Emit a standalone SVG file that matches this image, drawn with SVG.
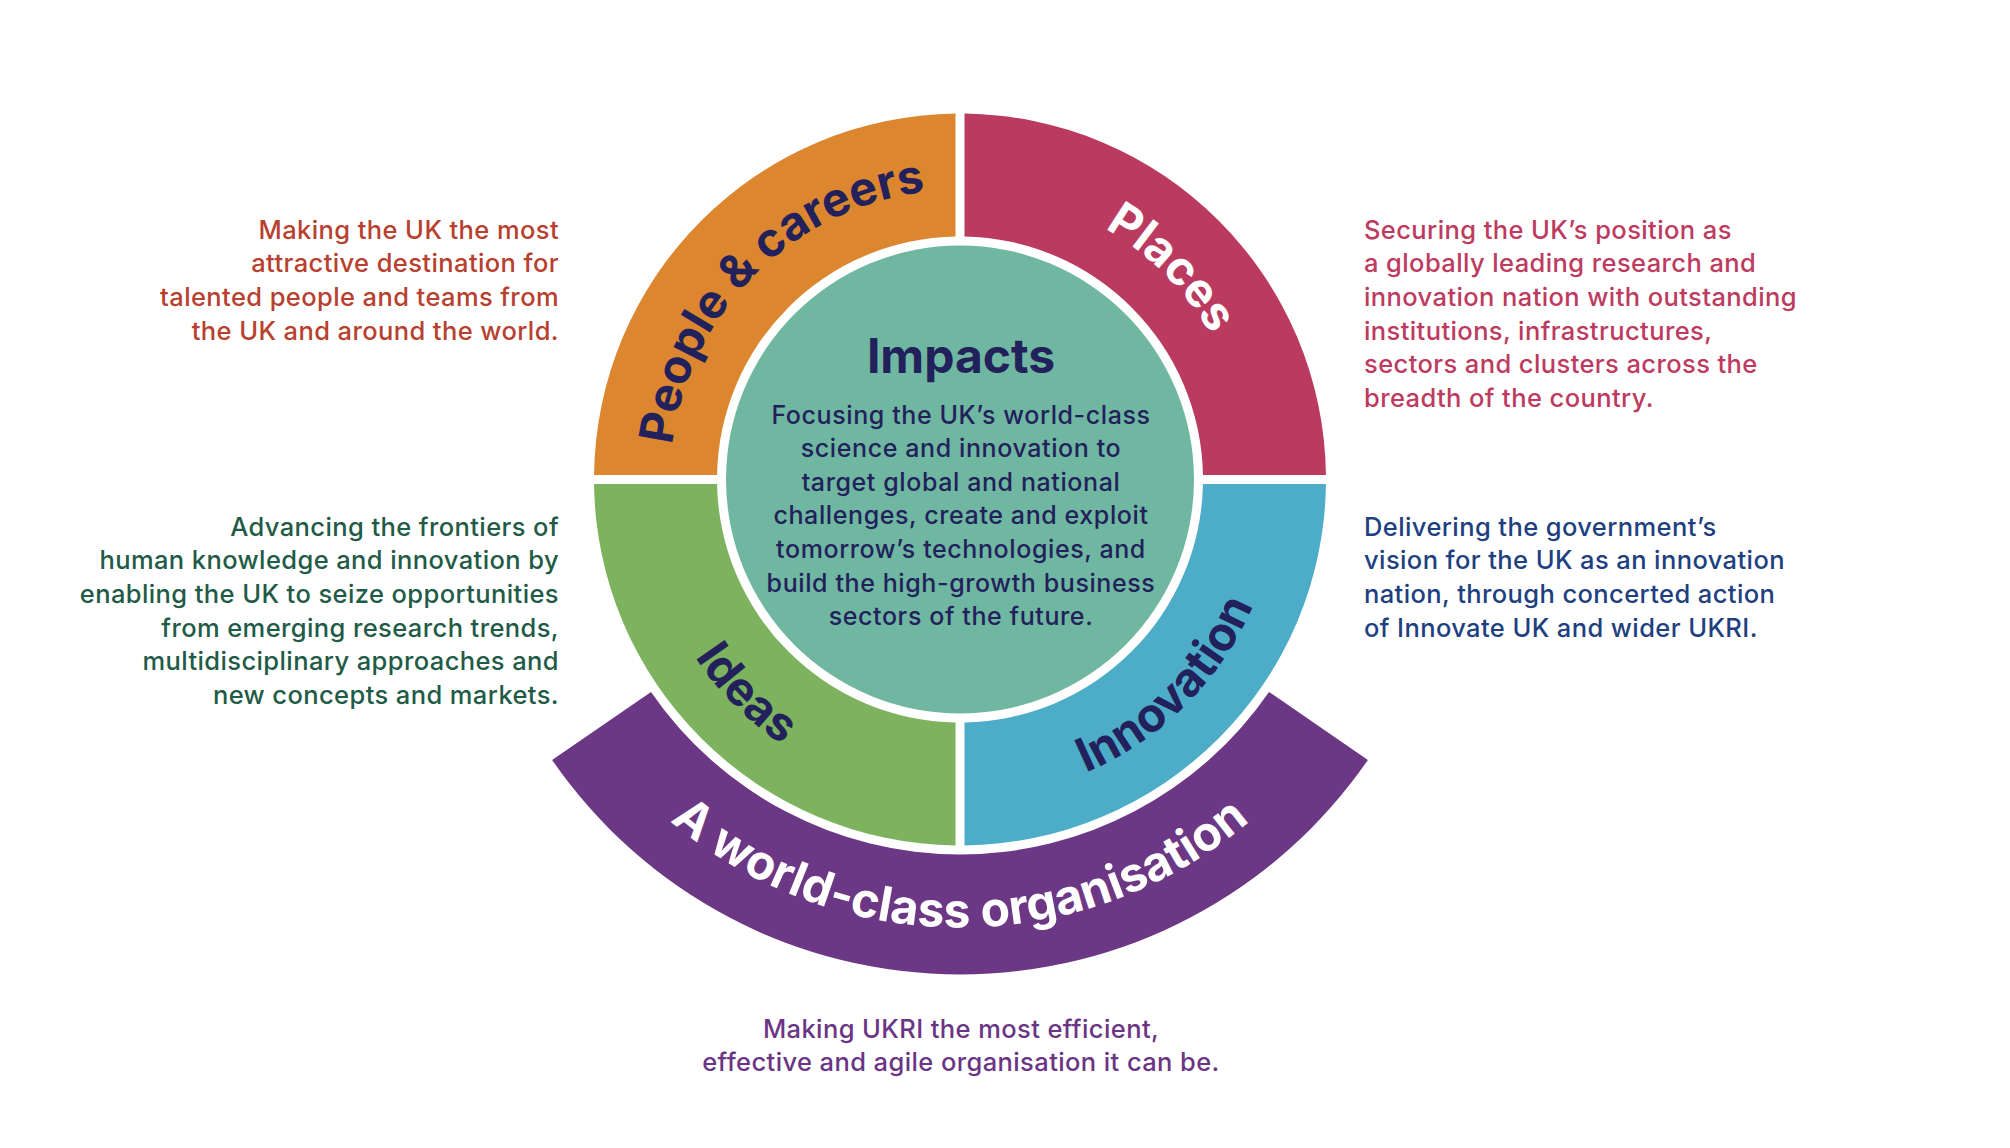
<svg xmlns="http://www.w3.org/2000/svg" xmlns:xlink="http://www.w3.org/1999/xlink" width="2010" height="1148" viewBox="0 0 2010 1148">
<style>
  .lbl { font-family: Inter, "Noto Sans", "Liberation Sans", sans-serif; font-weight: 700; font-size: 47px; }
  .navy { fill: #22215B; }
  .white { fill: #FFFFFF; }
  .desc { font-family: Inter, "Noto Sans", "Liberation Sans", sans-serif; font-weight: 500; font-size: 25.5px; letter-spacing: 0.4px; }
  .cdesc { font-family: Inter, "Noto Sans", "Liberation Sans", sans-serif; font-weight: 500; font-size: 25px; letter-spacing: 0.6px; fill: #22215B; text-anchor: middle; }
  .right { text-anchor: end; }
  .mid { text-anchor: middle; }
</style>
<defs>
  <path id="arcPeople" d="M 708.9 624.5 A 290 290 0 0 1 1105 228.4"/>
  <path id="arcPlaces" d="M 815 228.4 A 290 290 0 0 1 1211.1 624.5"/>
  <path id="arcInnov" d="M 800.5 755.8 A 319 319 0 0 0 1236.3 320"/>
  <path id="arcIdeas" d="M 683.7 320 A 319 319 0 0 0 1119.5 755.8"/>
  <path id="arcOrg" d="M 512 479.5 A 448 448 0 0 0 1408 479.5"/>
</defs>
<rect x="0" y="0" width="2010" height="1148" fill="#FFFFFF"/>

<g id="people-careers">
  <path d="M 594.03 475 A 366 366 0 0 1 955.5 113.53 L 955.5 236.54 A 243 243 0 0 0 717.04 475 Z" fill="#DC8630"/>
  <text class="lbl navy"><textPath href="#arcPeople" xlink:href="#arcPeople" startOffset="50%" text-anchor="middle">People &amp; careers</textPath></text>
</g>
<g id="places">
  <path d="M 964.5 113.53 A 366 366 0 0 1 1325.97 475 L 1202.96 475 A 243 243 0 0 0 964.5 236.54 Z" fill="#BA3B5F"/>
  <text class="lbl white"><textPath href="#arcPlaces" xlink:href="#arcPlaces" startOffset="50%" text-anchor="middle">Places</textPath></text>
</g>
<g id="innovation">
  <path d="M 1325.97 484 A 366 366 0 0 1 964.5 845.47 L 964.5 722.46 A 243 243 0 0 0 1202.96 484 Z" fill="#4DADC9"/>
  <text class="lbl navy"><textPath href="#arcInnov" xlink:href="#arcInnov" startOffset="50%" text-anchor="middle">Innovation</textPath></text>
</g>
<g id="ideas">
  <path d="M 955.5 845.47 A 366 366 0 0 1 594.03 484 L 717.04 484 A 243 243 0 0 0 955.5 722.46 Z" fill="#7DB35E"/>
  <text class="lbl navy"><textPath href="#arcIdeas" xlink:href="#arcIdeas" startOffset="50%" text-anchor="middle">Ideas</textPath></text>
</g>
<g id="world-class-organisation">
  <path d="M 1367.9 759.9 A 495 495 0 0 1 552.1 759.9 L 651.0 691.9 A 375 375 0 0 0 1269.0 691.9 Z" fill="#6C3885"/>
  <text class="lbl white" style="font-size:48px"><textPath href="#arcOrg" xlink:href="#arcOrg" startOffset="50%" text-anchor="middle">A world-class organisation</textPath></text>
</g>
<g id="impacts">
  <circle cx="960" cy="479.5" r="234" fill="#6FB7A1"/>
  <text x="961" y="373" class="navy mid" style="font-family: Inter, 'Noto Sans', 'Liberation Sans', sans-serif; font-weight:700; font-size:48px">Impacts</text>
  <text class="cdesc"><tspan x="961" y="423.5">Focusing the UK’s world-class</tspan><tspan x="961" y="457">science and innovation to</tspan><tspan x="961" y="490.7">target global and national</tspan><tspan x="961" y="524.3">challenges, create and exploit</tspan><tspan x="961" y="558">tomorrow’s technologies, and</tspan><tspan x="961" y="591.5">build the high-growth business</tspan><tspan x="961" y="625">sectors of the future.</tspan></text>
</g>

<g id="desc-people">
  <text class="desc right" fill="#B8402F"><tspan x="559" y="238.5">Making the UK the most</tspan><tspan x="559" y="272.2">attractive destination for</tspan><tspan x="559" y="305.9">talented people and teams from</tspan><tspan x="559" y="339.6">the UK and around the world.</tspan></text>
</g>
<g id="desc-ideas">
  <text class="desc right" fill="#1F5B47"><tspan x="559" y="535.5">Advancing the frontiers of</tspan><tspan x="559" y="569.2">human knowledge and innovation by</tspan><tspan x="559" y="602.9">enabling the UK to seize opportunities</tspan><tspan x="559" y="636.6">from emerging research trends,</tspan><tspan x="559" y="670.3">multidisciplinary approaches and</tspan><tspan x="559" y="704">new concepts and markets.</tspan></text>
</g>
<g id="desc-places">
  <text class="desc" fill="#BD3B60"><tspan x="1364" y="238.5">Securing the UK’s position as</tspan><tspan x="1364" y="272.2">a globally leading research and</tspan><tspan x="1364" y="305.9">innovation nation with outstanding</tspan><tspan x="1364" y="339.6">institutions, infrastructures,</tspan><tspan x="1364" y="373.3">sectors and clusters across the</tspan><tspan x="1364" y="407">breadth of the country.</tspan></text>
</g>
<g id="desc-innovation">
  <text class="desc" fill="#1E3F80"><tspan x="1364" y="535.5">Delivering the government’s</tspan><tspan x="1364" y="569.2">vision for the UK as an innovation</tspan><tspan x="1364" y="602.9">nation, through concerted action</tspan><tspan x="1364" y="636.6">of Innovate UK and wider UKRI.</tspan></text>
</g>
<g id="desc-organisation">
  <text class="desc mid" fill="#6B3585"><tspan x="961" y="1037.5">Making UKRI the most efficient,</tspan><tspan x="961" y="1071.2">effective and agile organisation it can be.</tspan></text>
</g>
<g id="connectors"></g>
</svg>
